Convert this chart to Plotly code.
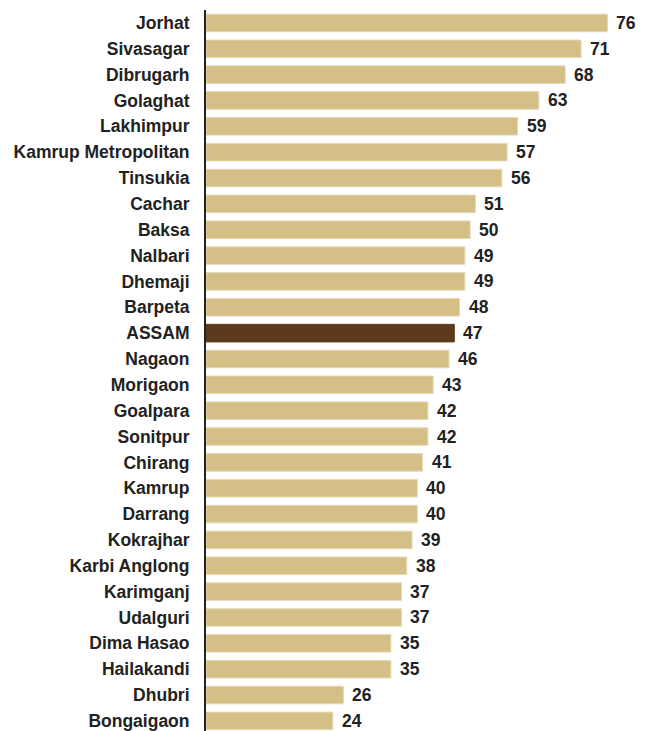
import plotly.graph_objects as go

districts = ["Jorhat", "Sivasagar", "Dibrugarh", "Golaghat", "Lakhimpur", "Kamrup Metropolitan",
             "Tinsukia", "Cachar", "Baksa", "Nalbari", "Dhemaji", "Barpeta", "ASSAM", "Nagaon",
             "Morigaon", "Goalpara", "Sonitpur", "Chirang", "Kamrup", "Darrang", "Kokrajhar",
             "Karbi Anglong", "Karimganj", "Udalguri", "Dima Hasao", "Hailakandi", "Dhubri", "Bongaigaon"]
values = [76, 71, 68, 63, 59, 57, 56, 51, 50, 49, 49, 48, 47, 46, 43, 42, 42, 41, 40, 40, 39,
          38, 37, 37, 35, 35, 26, 24]

bar_color = "#D4BF87"
highlight = "#5E3A1C"
colors = [highlight if d == "ASSAM" else bar_color for d in districts]
line_colors = [highlight if d == "ASSAM" else "#E6D9B5" for d in districts]

ypos = list(range(len(districts)))
FONT = "Liberation Sans, Arial, Helvetica, sans-serif"

fig = go.Figure(go.Bar(
    x=values, y=ypos, orientation="h",
    marker=dict(color=colors, line=dict(color=line_colors, width=1)),
    width=0.68, hoverinfo="skip",
))

for v, y in zip(values, ypos):
    fig.add_annotation(x=v, y=y, text=f"<b>{v}</b>", showarrow=False, xanchor="left",
                       xshift=7, font=dict(size=17.5, color="#222222", family=FONT))

fig.update_layout(
    width=637, height=724,
    margin=dict(l=198, r=0, t=2, b=0, autoexpand=False),
    plot_bgcolor="white", paper_bgcolor="white",
    showlegend=False,
    font=dict(family=FONT, size=17.5, color="#222222"),
)
fig.update_xaxes(range=[0, 83.1], visible=False, showgrid=False, zeroline=False)
fig.update_yaxes(
    range=[27.43, -0.5], tickmode="array", tickvals=ypos,
    ticktext=[f"<b>{d}</b>" for d in districts],
    showline=True, linecolor="#222222", linewidth=2, showgrid=False, zeroline=False,
    ticks="", ticklabelstandoff=11, tickfont=dict(size=17.5, color="#222222", family=FONT),
    automargin=False,
)

fig.write_html("out.html")
